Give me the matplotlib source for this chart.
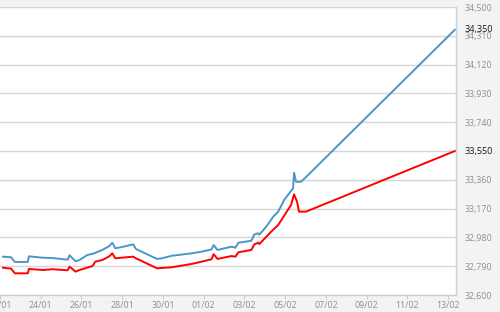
import matplotlib
matplotlib.use("Agg")
import matplotlib.pyplot as plt
import matplotlib.dates as mdates
import pandas as pd

blue_times = ["2021-01-22 03:30", "2021-01-22 13:00", "2021-01-22 17:30", "2021-01-23 08:45",
              "2021-01-23 10:00", "2021-01-24 02:20", "2021-01-24 14:00", "2021-01-25 07:40",
              "2021-01-25 10:00", "2021-01-25 17:00", "2021-01-25 21:40", "2021-01-26 07:00",
              "2021-01-26 15:10", "2021-01-26 18:40", "2021-01-27 00:35", "2021-01-27 08:45",
              "2021-01-27 12:20", "2021-01-27 15:50", "2021-01-28 00:00", "2021-01-28 12:50",
              "2021-01-28 16:20", "2021-01-29 17:00", "2021-01-29 22:50", "2021-01-30 10:30",
              "2021-01-31 10:00", "2021-01-31 21:40", "2021-02-01 09:20", "2021-02-01 11:40",
              "2021-02-01 16:20", "2021-02-02 08:45", "2021-02-02 13:25", "2021-02-02 17:00",
              "2021-02-03 08:10", "2021-02-03 11:40", "2021-02-03 16:20", "2021-02-03 17:35",
              "2021-02-04 01:45", "2021-02-04 10:00", "2021-02-04 15:50", "2021-02-04 22:50",
              "2021-02-05 09:20", "2021-02-05 10:30", "2021-02-05 12:50", "2021-02-05 18:40",
              "2021-02-06 00:35", "2021-02-13 08:00"]
blue_values = [32853, 32849, 32818, 32818, 32855, 32846, 32844, 32833,
               32862, 32822, 32831, 32864, 32875, 32884, 32897, 32923,
               32945, 32908, 32917, 32934, 32903, 32838, 32842, 32859,
               32875, 32886, 32901, 32930, 32897, 32919, 32912, 32945,
               32958, 33000, 33007, 32998, 33051, 33117, 33150, 33227,
               33304, 33407, 33347, 33347, 33378, 34350]

red_times = ["2021-01-22 03:30", "2021-01-22 13:00", "2021-01-22 17:30", "2021-01-23 08:45",
             "2021-01-23 10:00", "2021-01-24 02:20", "2021-01-24 14:00", "2021-01-25 07:40",
             "2021-01-25 10:00", "2021-01-25 17:00", "2021-01-25 21:40", "2021-01-26 13:00",
             "2021-01-26 16:20", "2021-01-27 00:35", "2021-01-27 08:45", "2021-01-27 12:20",
             "2021-01-27 15:50", "2021-01-28 12:50", "2021-01-28 16:20", "2021-01-29 17:00",
             "2021-01-30 10:30", "2021-01-31 10:00", "2021-01-31 21:40", "2021-02-01 09:20",
             "2021-02-01 11:40", "2021-02-01 16:20", "2021-02-02 08:45", "2021-02-02 13:25",
             "2021-02-02 17:00", "2021-02-03 08:10", "2021-02-03 11:40", "2021-02-03 16:20",
             "2021-02-03 17:35", "2021-02-04 07:35", "2021-02-04 15:50", "2021-02-05 07:00",
             "2021-02-05 10:30", "2021-02-05 14:00", "2021-02-05 16:20", "2021-02-06 00:35",
             "2021-02-13 08:00"]
red_values = [32780, 32774, 32743, 32743, 32772, 32765, 32770, 32763,
              32787, 32754, 32765, 32791, 32820, 32831, 32855, 32875,
              32842, 32853, 32842, 32776, 32783, 32805, 32820, 32836,
              32869, 32838, 32857, 32853, 32882, 32897, 32934, 32945,
              32936, 33018, 33062, 33194, 33264, 33216, 33150, 33150,
              33550]

y_ticks = [32600, 32790, 32980, 33170, 33360, 33550, 33740, 33930, 34120, 34310, 34500]
x_tick_dates = ["2021-01-22", "2021-01-24", "2021-01-26", "2021-01-28", "2021-01-30",
                "2021-02-01", "2021-02-03", "2021-02-05", "2021-02-07", "2021-02-09",
                "2021-02-11", "2021-02-13"]
last_blue_value = 34350
last_red_value = 33550

plt.rcParams["font.family"] = ["Open Sans", "DejaVu Sans"]

fig = plt.figure(figsize=(5, 3.12), dpi=100, facecolor="#f3f3f3")
W, H = 500, 312
ax = fig.add_axes([0, 1 - 295 / H, 456 / W, 288 / H])
ax.set_facecolor("white")

bt = pd.to_datetime(blue_times)
rt = pd.to_datetime(red_times)
ax.plot(bt, blue_values, color="#4b96c6", lw=1.4, solid_joinstyle="round")
ax.plot(rt, red_values, color="#ff0000", lw=1.4, solid_joinstyle="round")

ax.set_xlim(pd.Timestamp("2021-01-22 03:30"), pd.Timestamp("2021-02-13 09:20"))
ax.set_ylim(32600, 34500)

ax.set_yticks(y_ticks)
# the tick label equal to the red series' last value is covered by its own marker label
ax.set_yticklabels(["" if v == last_red_value else f"{v:,}" for v in y_ticks])
ax.yaxis.tick_right()
ax.tick_params(axis="y", length=0, pad=6.5, labelsize=6.4, labelcolor="#8f8f8f")
ax.grid(axis="y", color="#d6d6d6", lw=1)
ax.set_axisbelow(True)

ax.set_xticks(pd.to_datetime(x_tick_dates))
ax.xaxis.set_major_formatter(mdates.DateFormatter("%d/%m"))
ax.tick_params(axis="x", length=3, width=0.8, color="#c8d0da", pad=1,
               labelsize=6.4, labelcolor="#8f8f8f")

for s in ["left", "top"]:
    ax.spines[s].set_visible(False)
for s in ["bottom", "right"]:
    ax.spines[s].set_color("#c8d0da")
    ax.spines[s].set_linewidth(1)

trans = ax.get_yaxis_transform()
for v in (last_blue_value, last_red_value):
    ax.text(1 + 9 / 456, v, f"{v:,}", transform=trans, va="center", ha="left",
            fontsize=6.6, color="#1a1a1a", clip_on=False)

fig.savefig("out.png", dpi=100, facecolor=fig.get_facecolor())
